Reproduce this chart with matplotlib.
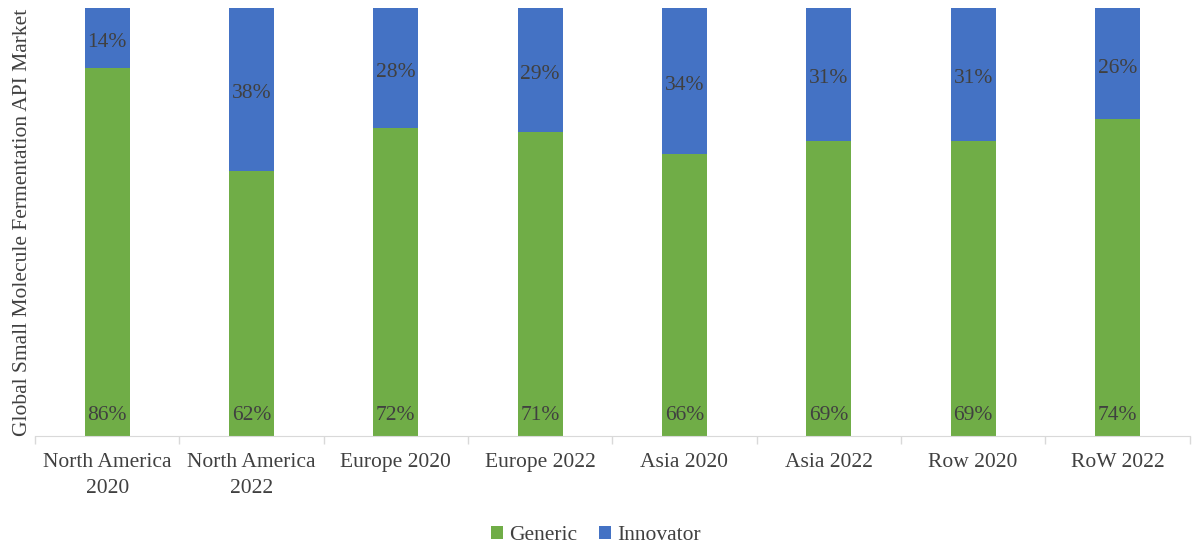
import matplotlib.pyplot as plt
import numpy as np

categories = ["North America\n2020", "North America\n2022", "Europe 2020", "Europe 2022",
              "Asia 2020", "Asia 2022", "Row 2020", "RoW 2022"]
generic = [86, 62, 72, 71, 66, 69, 69, 74]
innovator = [14, 38, 28, 29, 34, 31, 31, 26]

plt.rcParams['font.family'] = ['Liberation Serif', 'DejaVu Serif']
txt = '#404040'
fs = 15.5

fig = plt.figure(figsize=(11.92, 5.48), dpi=100)
ax = fig.add_axes([0.0294, 0.2044, 0.9686, 0.7806])

x = np.arange(len(categories))
w = 0.31
b1 = ax.bar(x, generic, w, color='#70AD47', label='Generic')
b2 = ax.bar(x, innovator, w, bottom=generic, color='#4472C4', label='Innovator')

for i in range(len(x)):
    ax.annotate(f"{generic[i]}%", (x[i], 0), xytext=(0, 8), textcoords='offset points',
                ha='center', va='bottom', fontsize=fs, color=txt)
    ax.text(x[i], generic[i] + innovator[i] / 2 - 1, f"{innovator[i]}%",
            ha='center', va='center', fontsize=fs, color=txt)

ax.set_xlim(-0.5, len(x) - 0.5)
ax.set_ylim(0, 100)
ax.set_yticks([])
ax.set_xticks(x)
ax.set_xticklabels(categories, fontsize=fs, color=txt, linespacing=1.5)
ax.set_xticks(np.arange(len(x) + 1) - 0.5, minor=True)
ax.tick_params(axis='x', which='major', length=0, pad=12)
ax.tick_params(axis='x', which='minor', length=6, color='#d9d9d9', width=1)
for s in ['top', 'right', 'left']:
    ax.spines[s].set_visible(False)
ax.spines['bottom'].set_color('#d9d9d9')
ax.set_ylabel("Global Small Molecule Fermentation API Market", fontsize=fs, color=txt, labelpad=2)

fig.legend(handles=[b1, b2], loc='lower center', ncol=2, frameon=False, fontsize=fs,
           bbox_to_anchor=(0.5, -0.03), handlelength=0.55, handleheight=0.55,
           handletextpad=0.3, columnspacing=1.0, labelcolor=txt)

fig.savefig('out.png', dpi=100)
